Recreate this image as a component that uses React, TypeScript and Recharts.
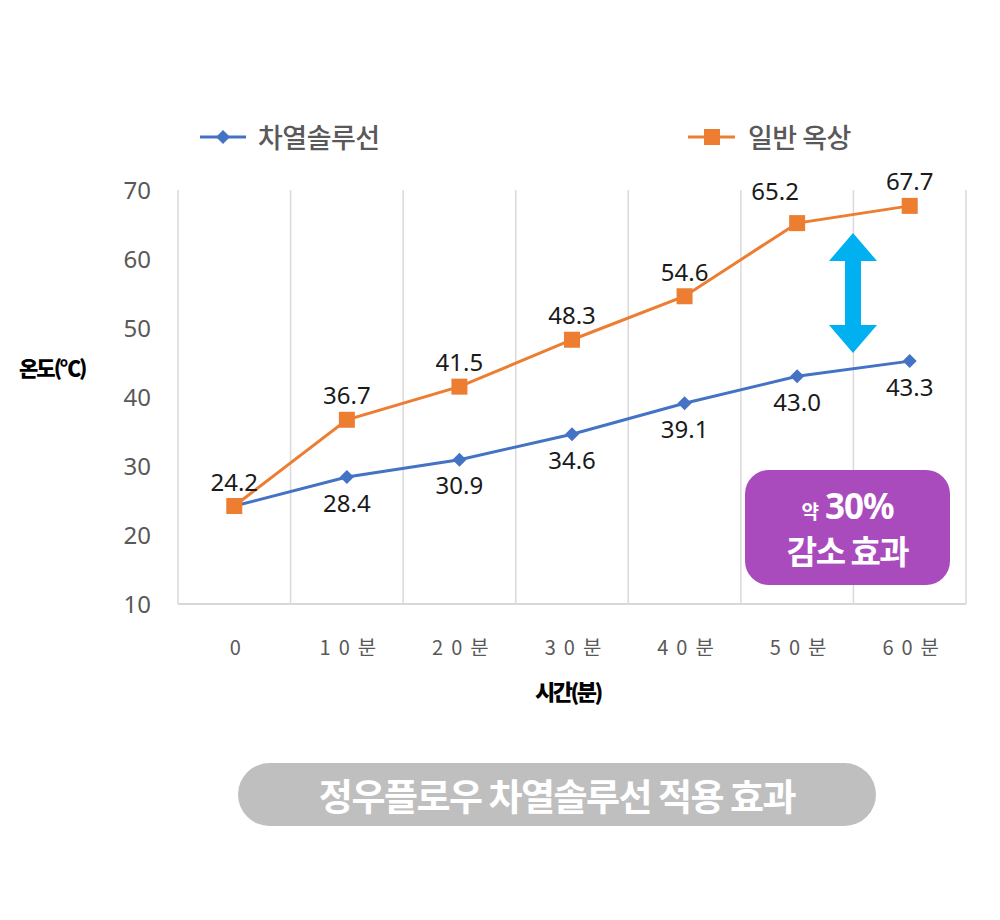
import { LineChart, Line, XAxis, YAxis, CartesianGrid } from "recharts"

const categories = ["0", "10분", "20분", "30분", "40분", "50분", "60분"]
const solutionValues = [24.2, 28.4, 30.9, 34.6, 39.1, 43.0, 45.2]
const solutionLabels = ["", "28.4", "30.9", "34.6", "39.1", "43.0", "43.3"]
const roofValues = [24.2, 36.7, 41.5, 48.3, 54.6, 65.2, 67.7]
const roofLabels = ["24.2", "36.7", "41.5", "48.3", "54.6", "65.2", "67.7"]
const yTicks = [10, 20, 30, 40, 50, 60, 70]

const data = categories.map((c, i) => ({
  name: c,
  solution: solutionValues[i],
  roof: roofValues[i],
}))

const BLUE = "#4472C4"
const ORANGE = "#ED7D31"
const KR = "'Noto Sans CJK KR', 'Noto Sans', sans-serif"
const NUM = "'Noto Sans', 'Open Sans', sans-serif"

const renderDiamond = (props: any) => {
  const { cx, cy, index } = props
  if (cx == null || cy == null) return <g key={`sd-${index}`} />
  const r = 7
  return (
    <path
      key={`sd-${index}`}
      d={`M${cx},${cy - r} L${cx + r},${cy} L${cx},${cy + r} L${cx - r},${cy} Z`}
      fill={BLUE}
    />
  )
}

const renderSquare = (props: any) => {
  const { cx, cy, index } = props
  if (cx == null || cy == null) return <g key={`rs-${index}`} />
  const s = 16
  return <rect key={`rs-${index}`} x={cx - s / 2} y={cy - s / 2} width={s} height={s} fill={ORANGE} />
}

const renderRoofLabel = (props: any) => {
  const { x, y, index } = props
  const dx = index === 5 ? -22 : 0
  const dy = index === 5 ? -33 : -25
  return (
    <text
      key={`rl-${index}`}
      x={x + dx}
      y={y + dy}
      textAnchor="middle"
      dominantBaseline="central"
      fontFamily={NUM}
      fontSize={24}
      fill="#1a1a1a"
    >
      {roofLabels[index]}
    </text>
  )
}

const renderSolutionLabel = (props: any) => {
  const { x, y, index } = props
  return (
    <text
      key={`sl-${index}`}
      x={x}
      y={y + 25}
      textAnchor="middle"
      dominantBaseline="central"
      fontFamily={NUM}
      fontSize={24}
      fill="#1a1a1a"
    >
      {solutionLabels[index]}
    </text>
  )
}

const renderXTick = (props: any) => {
  const { x, y, payload } = props
  return (
    <text
      x={x + 5}
      y={y}
      textAnchor="middle"
      dominantBaseline="central"
      fontFamily={KR}
      fontSize={20}
      fill="#595959"
      style={{ letterSpacing: "8px" }}
    >
      {payload.value}
    </text>
  )
}

export default function App() {
  return (
    <div
      style={{
        position: "absolute",
        left: 0,
        top: 0,
        width: 1000,
        height: 920,
        background: "#ffffff",
        fontFamily: KR,
      }}
    >
      {/* legend */}
      <div style={{ position: "absolute", left: 200, top: 117, display: "flex", alignItems: "center" }}>
        <svg width={46} height={36}>
          <line x1={0} y1={18} x2={46} y2={18} stroke={BLUE} strokeWidth={3} />
          <path d="M23,11 L30,18 L23,25 L16,18 Z" fill={BLUE} />
        </svg>
        <span style={{ marginLeft: 12, fontSize: 27, color: "#595959", fontWeight: 500, letterSpacing: "-0.5px" }}>
          차열솔루선
        </span>
      </div>
      <div style={{ position: "absolute", left: 688, top: 117, display: "flex", alignItems: "center" }}>
        <svg width={47} height={36}>
          <line x1={0} y1={18} x2={47} y2={18} stroke={ORANGE} strokeWidth={3} />
          <rect x={16} y={10} width={16} height={16} fill={ORANGE} />
        </svg>
        <span style={{ marginLeft: 13, fontSize: 27, color: "#595959", fontWeight: 500, letterSpacing: "-0.5px" }}>
          일반 옥상
        </span>
      </div>

      <div
        style={{
          position: "absolute",
          left: 19,
          top: 352,
          fontSize: 21,
          fontWeight: 900,
          color: "#000",
          letterSpacing: "-2px",
        }}
      >
        온도(℃)
      </div>

      <div style={{ position: "absolute", left: 0, top: 0 }}>
        <LineChart width={1000} height={920} data={data} margin={{ top: 190, right: 34, bottom: 286, left: 118 }}>
          <CartesianGrid
            horizontal={false}
            stroke="#d9d9d9"
            strokeWidth={1.5}
            verticalCoordinatesGenerator={({ offset }: any) =>
              [...categories, ""].map((_, i) => offset.left + (i * offset.width) / categories.length)
            }
          />
          <XAxis
            dataKey="name"
            scale="band"
            height={30}
            axisLine={{ stroke: "#d9d9d9", strokeWidth: 2 }}
            tickLine={false}
            tickSize={0}
            tickMargin={42}
            tick={renderXTick}
            interval={0}
          />
          <YAxis
            width={60}
            domain={[10, 70]}
            ticks={yTicks}
            axisLine={false}
            tickLine={false}
            tickSize={0}
            tickMargin={27}
            tick={{ fontSize: 24, fill: "#595959", fontFamily: NUM }}
          />
          <Line
            dataKey="solution"
            stroke={BLUE}
            strokeWidth={3}
            dot={renderDiamond}
            activeDot={false}
            label={renderSolutionLabel}
            isAnimationActive={false}
          />
          <Line
            dataKey="roof"
            stroke={ORANGE}
            strokeWidth={3}
            dot={renderSquare}
            activeDot={false}
            label={renderRoofLabel}
            isAnimationActive={false}
          />
        </LineChart>
      </div>

      {/* double arrow */}
      <svg style={{ position: "absolute", left: 820, top: 228 }} width={66} height={132}>
        <polygon
          points="33,5 57,33 41,33 41,97 57,97 33,125 9,97 25,97 25,33 9,33"
          fill="#00B0F0"
        />
      </svg>

      {/* reduction badge */}
      <div
        style={{
          position: "absolute",
          left: 745,
          top: 470,
          width: 205,
          height: 115,
          borderRadius: 24,
          background: "#A94BBD",
          color: "#fff",
          display: "flex",
          flexDirection: "column",
          alignItems: "center",
          justifyContent: "center",
          fontWeight: 700,
        }}
      >
        <div style={{ display: "flex", alignItems: "baseline", height: 44, lineHeight: "44px" }}>
          <span style={{ fontSize: 19, marginRight: 6 }}>약</span>
          <span style={{ fontSize: 35, fontFamily: NUM, letterSpacing: "-1px" }}>30%</span>
        </div>
        <div style={{ fontSize: 33, letterSpacing: "-1.5px", height: 44, lineHeight: "44px" }}>감소 효과</div>
      </div>

      <div
        style={{
          position: "absolute",
          left: 535,
          top: 674,
          fontSize: 22,
          fontWeight: 900,
          color: "#000",
          letterSpacing: "-2.5px",
        }}
      >
        시간(분)
      </div>

      <div
        style={{
          position: "absolute",
          left: 238,
          top: 763,
          width: 638,
          height: 63,
          borderRadius: 32,
          background: "#BFBFBF",
          color: "#fff",
          display: "flex",
          alignItems: "center",
          justifyContent: "center",
          fontSize: 37,
          fontWeight: 700,
          letterSpacing: "-1.5px",
        }}
      >
        정우플로우 차열솔루선 적용 효과
      </div>
    </div>
  )
}
